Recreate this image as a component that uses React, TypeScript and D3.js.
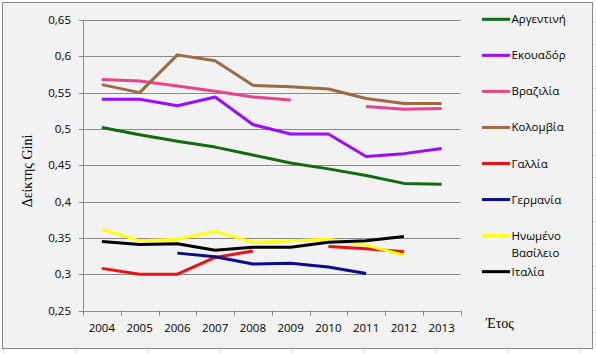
import React from "react";
import * as d3 from "d3";

const years = ["2004", "2005", "2006", "2007", "2008", "2009", "2010", "2011", "2012", "2013"];
const yTicks = [0.25, 0.3, 0.35, 0.4, 0.45, 0.5, 0.55, 0.6, 0.65];

const argentina = [0.502, 0.492, 0.483, 0.475, 0.464, 0.453, 0.445, 0.436, 0.425, 0.424];
const ecuador = [0.541, 0.541, 0.532, 0.544, 0.506, 0.493, 0.493, 0.462, 0.466, 0.473];
const brazil = [0.568, 0.566, 0.559, 0.552, 0.544, 0.540, null, 0.531, 0.527, 0.528];
const colombia = [0.561, 0.550, 0.602, 0.594, 0.560, 0.558, 0.555, 0.542, 0.535, 0.535];
const france = [0.308, 0.300, 0.300, 0.323, 0.332, null, 0.338, 0.335, 0.331, null];
const germany = [null, null, 0.329, 0.324, 0.314, 0.315, 0.310, 0.301, null, null];
const uk = [0.362, 0.346, 0.348, 0.359, 0.344, 0.346, 0.348, 0.340, 0.326, null];
const italy = [0.345, 0.341, 0.342, 0.333, 0.337, 0.337, 0.344, 0.346, 0.352, null];

const seriesNames = ["Αργεντινή", "Εκουαδόρ", "Βραζιλία", "Κολομβία", "Γαλλία", "Γερμανία", "Ηνωμένο Βασίλειο", "Ιταλία"];
const seriesValues = [argentina, ecuador, brazil, colombia, france, germany, uk, italy];
const seriesColors = ["#106c10", "#9a0cff", "#e8438c", "#9c6a43", "#ea1212", "#0a0a8a", "#ffff14", "#000000"];

const W = 596;
const H = 354;
const plot = { left: 83, right: 460.5, top: 20, bottom: 310.5 };

export default function App() {
  const x = d3.scaleBand<string>().domain(years).range([plot.left, plot.right]);
  const y = d3.scaleLinear().domain([0.25, 0.65]).range([plot.bottom, plot.top]);
  const line = d3
    .line<number | null>()
    .defined((d) => d !== null)
    .x((_, i) => (x(years[i]) as number) + x.bandwidth() / 2)
    .y((d) => y(d as number));

  const fmt = (v: number) => d3.format("")(+v.toFixed(2)).replace(".", ",");
  const tickFont = "'Open Sans', sans-serif";
  const serif = "'Liberation Serif', 'DejaVu Serif', serif";

  const sheetRows = d3.range(22, H, 22.2);
  const sheetCols = d3.range(4, W, 72);

  return (
    <svg width={W} height={H} style={{ position: "absolute", left: 0, top: 0, display: "block" }}>
      <rect x={0} y={0} width={W} height={H} fill="#ffffff" />
      {sheetRows.map((r, i) => (
        <line key={"sr" + i} x1={593} x2={W} y1={r} y2={r} stroke="#dadada" strokeWidth={1} />
      ))}
      {sheetCols.map((c, i) => (
        <line key={"sc" + i} x1={c} x2={c} y1={349} y2={H} stroke="#dadada" strokeWidth={1} />
      ))}
      <rect x={2.5} y={2.5} width={590} height={346} fill="#f2f2f2" stroke="#878787" strokeWidth={1} />

      {yTicks.map((t) => (
        <g key={"g" + t}>
          <line x1={plot.left - 4} x2={plot.right} y1={Math.round(y(t)) + 0.5} y2={Math.round(y(t)) + 0.5} stroke="#8a8a8a" strokeWidth={1} />
          <text x={71} y={y(t)} dy="0.35em" textAnchor="end" fontFamily={tickFont} fontSize={11.5} fill="#000">
            {fmt(t)}
          </text>
        </g>
      ))}
      <line x1={plot.left + 0.5} x2={plot.left + 0.5} y1={plot.top} y2={plot.bottom} stroke="#8a8a8a" strokeWidth={1} />
      {years.concat(["end"]).map((yr, i) => {
        const xv = i < years.length ? (x(yr) as number) : plot.right;
        return <line key={"xt" + i} x1={Math.round(xv) + 0.5} x2={Math.round(xv) + 0.5} y1={plot.bottom} y2={plot.bottom + 5} stroke="#8a8a8a" strokeWidth={1} />;
      })}
      {years.map((yr) => (
        <text key={"xl" + yr} x={(x(yr) as number) + x.bandwidth() / 2} y={332} textAnchor="middle" fontFamily={tickFont} fontSize={11.5} fill="#000">
          {yr}
        </text>
      ))}

      {seriesValues.map((vals, i) => (
        <path key={"s" + i} d={line(vals) || ""} fill="none" stroke={seriesColors[i]} strokeWidth={3} strokeLinejoin="round" strokeLinecap="butt" />
      ))}

      {seriesNames.map((name, i) => {
        const ly = 19.3 + i * 36.05;
        const parts = name.split(" ");
        return (
          <g key={"lg" + i}>
            <line x1={482} x2={510} y1={ly} y2={ly} stroke={seriesColors[i]} strokeWidth={3} />
            {parts.map((p, j) => (
              <text key={j} x={511.5} y={ly + j * 17} dy="0.35em" fontFamily={tickFont} fontSize={11.5} fill="#000">
                {p}
              </text>
            ))}
          </g>
        );
      })}

      <text transform="translate(32,171) rotate(-90)" textAnchor="middle" fontFamily={serif} fontSize={14} fill="#000">
        Δείκτης Gini
      </text>
      <text x={486} y={328} fontFamily={serif} fontSize={14} fill="#000">
        Έτος
      </text>
    </svg>
  );
}
